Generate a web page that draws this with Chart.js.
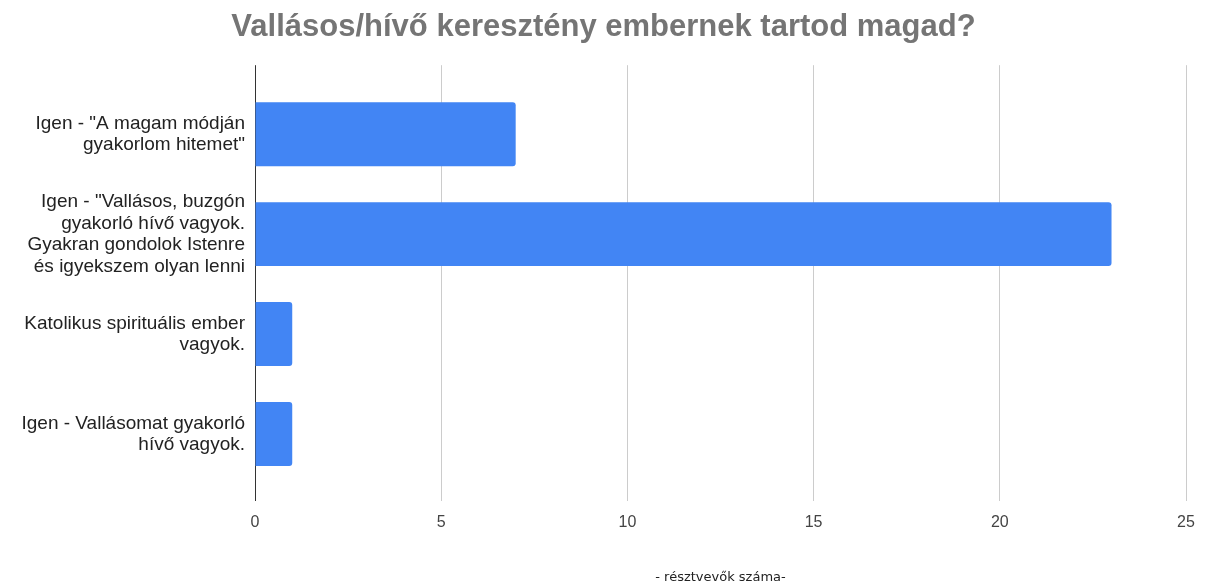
<!DOCTYPE html>
<html>
<head>
<meta charset="utf-8">
<script src="https://cdn.jsdelivr.net/npm/chart.js@4"></script>
<style>
  html, body { margin: 0; padding: 0; background: #fff; }
  #wrap { width: 1207px; height: 588px; }
</style>
</head>
<body>
<div id="wrap"><canvas id="chart" width="1207" height="588"></canvas></div>
<script>
// Vallásos/hívő kérdés - válaszok száma
const categories = [
    ['Igen - "A magam módján', 'gyakorlom hitemet"'],
    ['Igen - "Vallásos, buzgón', 'gyakorló hívő vagyok.', 'Gyakran gondolok Istenre', 'és igyekszem olyan lenni'],
    ['Katolikus spirituális ember', 'vagyok.'],
    ['Igen - Vallásomat gyakorló', 'hívő vagyok.']
];
const counts = [7, 23, 1, 1];
const xTicks = [0, 5, 10, 15, 20, 25];

(function() {
    const ctx = document.getElementById('chart').getContext('2d');
    const points = counts.map((v, i) => ({ x: v, y: i }));

    new Chart(ctx, {
        type: 'bar',
        data: {
            datasets: [{
                data: points,
                backgroundColor: '#4285f4',
                borderRadius: 3,
                categoryPercentage: 0.8,
                barPercentage: 0.8
            }]
        },
        options: {
            indexAxis: 'y',
            responsive: false,
            animation: false,
            // left padding = right padding so the title sits in the canvas centre
            layout: { padding: { left: 21, right: 21, top: 0, bottom: 0 } },
            plugins: {
                legend: { display: false },
                tooltip: { enabled: false },
                title: {
                    display: true,
                    text: 'Vallásos/hívő keresztény embernek tartod magad?',
                    color: '#757575',
                    font: { family: 'Liberation Sans', size: 31, weight: 'bold', lineHeight: 1.2 },
                    padding: { top: 9, bottom: 19 }
                }
            },
            scales: {
                x: {
                    type: 'linear',
                    min: 0,
                    max: 25,
                    afterBuildTicks: (scale) => { scale.ticks = xTicks.map(v => ({ value: v })); },
                    afterFit: (scale) => { scale.height = 95; },
                    border: { display: false },
                    grid: {
                        color: (c) => c.tick && c.tick.value === 0 ? '#333333' : '#cccccc',
                        lineWidth: 1,
                        tickLength: 8
                    },
                    ticks: {
                        color: '#444444',
                        padding: 12,
                        font: { family: 'Liberation Sans', size: 16 }
                    },
                    title: {
                        display: true,
                        text: '- résztvevők száma-',
                        color: '#222222',
                        font: { family: 'DejaVu Sans', size: 13 },
                        padding: { top: 0, bottom: 3 }
                    }
                },
                y: {
                    type: 'linear',
                    reverse: true,
                    offset: false,
                    min: -0.69,
                    max: 3.59,
                    afterBuildTicks: (scale) => { scale.ticks = categories.map((c, i) => ({ value: i })); },
                    afterFit: (scale) => { scale.width = 234; },
                    border: { display: false },
                    grid: { display: false, offset: false },
                    ticks: {
                        color: '#222222',
                        padding: 2,
                        font: { family: 'Liberation Sans', size: 19, lineHeight: 1.13 },
                        callback: (v) => categories[v] || ''
                    }
                }
            }
        }
    });
})();
</script>
</body>
</html>
